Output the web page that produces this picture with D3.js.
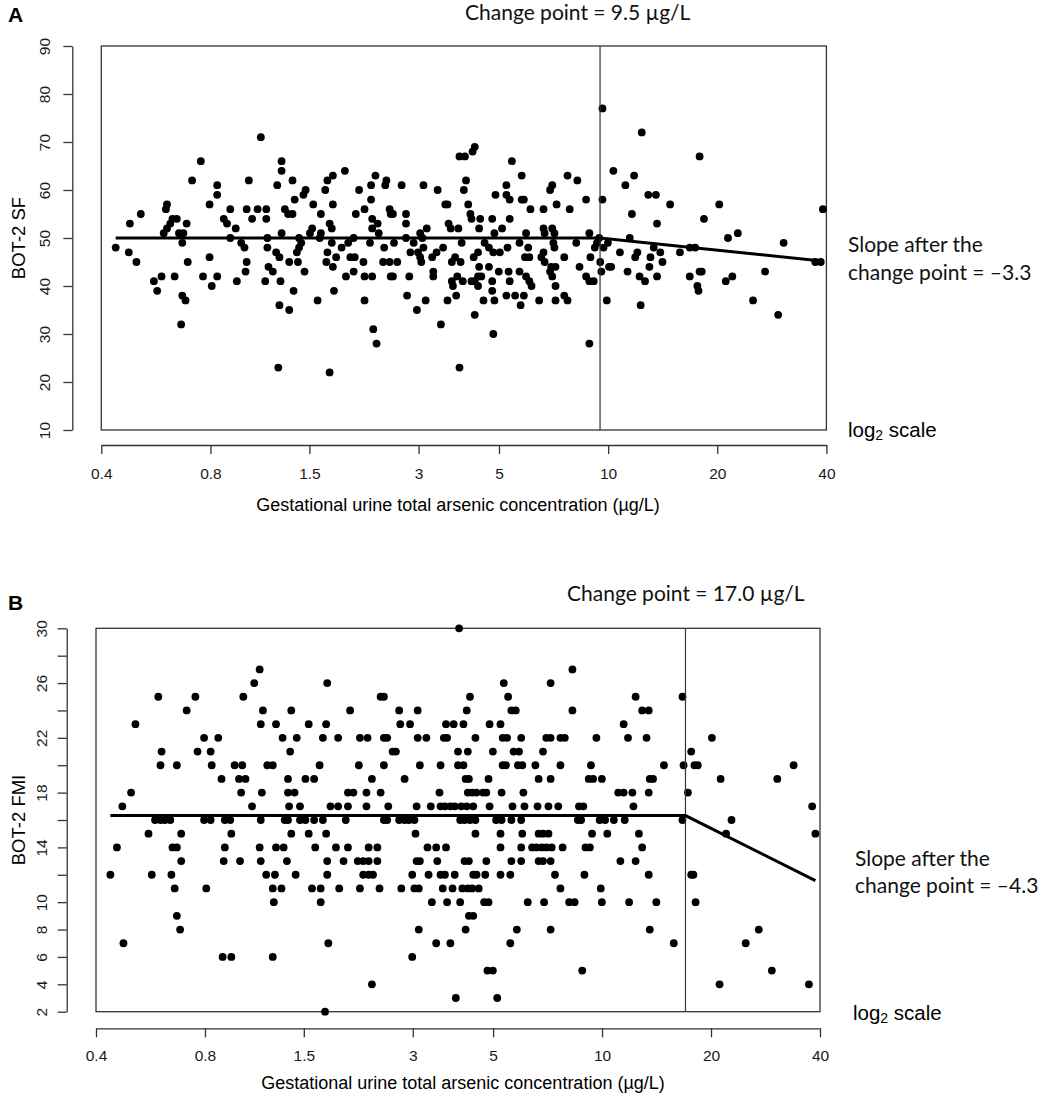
<!DOCTYPE html>
<html>
<head>
<meta charset="utf-8">
<script src="https://cdn.jsdelivr.net/npm/d3@7"></script>
<style>
  body { margin: 0; background: #fff; }
  svg { display: block; }
</style>
</head>
<body>
<script>
// ============================================================
// Data (x = log2 of gestational urine total arsenic, ug/L)
// ------------------------------------------------------------

var arsenicTicks = [0.4, 0.8, 1.5, 3, 5, 10, 20, 40];

// Panel A: BOT-2 SF, one [log2 As, score] pair per child
var sfPoints = [
  [-1.19,48],[-1.07,47],[-1.06,53],[-1.00,45],[-0.96,55],[-0.84,41],[-0.81,39],[-0.77,42],[-0.75,51],[-0.73,56],
  [-0.72,57],[-0.72,52],[-0.69,53],[-0.67,54],[-0.63,54],[-0.65,42],[-0.61,51],[-0.59,32],[-0.58,38],[-0.57,51],
  [-0.58,49],[-0.55,37],[-0.54,53],[-0.53,45],[-0.49,62],[-0.41,66],[-0.39,42],[-0.33,57],[-0.33,46],[-0.31,40],
  [-0.26,61],[-0.26,59],[-0.26,42],[-0.20,54],[-0.17,53],[-0.14,56],[-0.14,50],[-0.09,52],[-0.08,41],[-0.04,49],
  [-0.01,48],[0.01,56],[0.01,45],[0.00,43],[0.03,62],[0.06,54],[0.11,56],[0.14,71],[0.19,56],[0.19,54],
  [0.20,48],[0.20,50],[0.18,41],[0.21,44],[0.25,43],[0.29,61],[0.33,66],[0.33,64],[0.33,51],[0.31,36],
  [0.30,23],[0.32,41],[0.31,46],[0.28,47],[0.36,56],[0.39,55],[0.40,35],[0.40,45],[0.43,62],[0.44,39],
  [0.45,58],[0.43,55],[0.48,45],[0.47,47],[0.49,50],[0.49,48],[0.51,49],[0.53,59],[0.55,60],[0.54,43],
  [0.62,57],[0.61,52],[0.59,51],[0.66,37],[0.68,50],[0.69,51],[0.69,55],[0.73,60],[0.75,62],[0.75,47],
  [0.74,45],[0.77,53],[0.77,22],[0.79,52],[0.80,63],[0.80,57],[0.79,49],[0.80,44],[0.81,39],[0.83,46],
  [0.88,48],[0.91,64],[0.92,42],[0.94,49],[0.96,46],[0.99,50],[1.00,46],[1.01,55],[0.99,43],[1.04,60],
  [1.08,45],[1.09,56],[1.09,42],[1.09,37],[1.15,58],[1.15,61],[1.14,49],[1.16,54],[1.16,42],[1.16,52],
  [1.19,63],[1.17,31],[1.20,28],[1.21,53],[1.22,51],[1.26,45],[1.27,48],[1.28,61],[1.29,62],[1.32,45],
  [1.32,56],[1.33,55],[1.33,42],[1.35,42],[1.35,55],[1.36,49],[1.39,45],[1.43,61],[1.47,55],[1.47,53],
  [1.47,50],[1.48,38],[1.50,42],[1.51,47],[1.54,49],[1.57,35],[1.58,47],[1.60,46],[1.61,45],[1.60,51],
  [1.62,50],[1.63,61],[1.63,48],[1.65,37],[1.66,52],[1.71,46],[1.72,43],[1.72,42],[1.76,60],[1.75,47],
  [1.79,32],[1.81,48],[1.83,57],[1.85,57],[1.85,37],[1.86,53],[1.88,52],[1.89,45],[1.89,41],[1.90,40],
  [1.92,46],[1.93,38],[1.94,42],[1.95,52],[1.96,23],[1.96,67],[2.01,67],[2.02,62],[2.00,60],[1.97,45],
  [1.98,49],[1.99,41],[2.04,57],[2.06,55],[2.07,54],[2.08,68],[2.10,69],[2.07,41],[2.09,46],[2.10,34],
  [2.10,41],[2.13,42],[2.13,40],[2.14,52],[2.15,54],[2.13,47],[2.14,44],[2.16,42],[2.18,37],[2.19,49],
  [2.23,44],[2.23,48],[2.26,54],[2.26,41],[2.26,39],[2.27,30],[2.28,37],[2.29,59],[2.28,51],[2.27,47],
  [2.32,43],[2.33,47],[2.35,52],[2.39,61],[2.39,38],[2.39,59],[2.40,48],[2.44,66],[2.42,58],[2.42,54],
  [2.41,43],[2.42,41],[2.47,38],[2.53,63],[2.53,58],[2.55,58],[2.61,56],[2.57,51],[2.51,49],[2.59,48],
  [2.56,46],[2.60,46],[2.51,43],[2.57,42],[2.60,41],[2.62,40],[2.55,38],[2.52,36],[2.69,37],[2.73,56],
  [2.73,52],[2.74,51],[2.81,52],[2.83,51],[2.82,49],[2.83,48],[2.79,60],[2.81,61],[2.85,57],[2.92,46],
  [2.73,47],[2.71,46],[2.74,45],[2.80,44],[2.84,44],[2.79,43],[2.81,42],[2.84,40],[2.84,37],[2.92,38],
  [2.95,37],[2.95,63],[2.97,56],[3.04,62],[3.03,49],[3.06,44],[3.12,58],[3.12,42],[3.15,51],[3.16,46],
  [3.15,41],[3.19,41],[3.15,28],[3.20,48],[3.22,49],[3.24,50],[3.27,77],[3.27,58],[3.28,48],[3.25,45],
  [3.26,43],[3.31,37],[3.32,49],[3.33,44],[3.35,44],[3.37,64],[3.43,47],[3.48,61],[3.50,43],[3.52,50],
  [3.54,55],[3.57,46],[3.59,47],[3.61,42],[3.62,36],[3.63,72],[3.56,63],[3.66,41],[3.69,59],[3.76,59],
  [3.70,44],[3.71,46],[3.74,48],[3.77,42],[3.77,53],[3.80,47],[3.82,45],[3.89,57],[3.98,47],[4.07,48],
  [4.12,48],[4.07,42],[4.16,67],[4.14,40],[4.15,39],[4.16,43],[4.18,43],[4.20,54],[4.34,57],[4.40,41],
  [4.42,50],[4.46,42],[4.51,51],[4.65,37],[4.76,43],[4.88,34],[4.93,49],[5.22,45],[5.27,45],[5.29,56]
];
var sfTicks = [10, 20, 30, 40, 50, 60, 70, 80, 90];
var sfChangePoint = 9.5;              // ug/L
var sfFit = [[-1.19, 50], [null, 50], [5.28, 45.2]];   // null = change point

// Panel B: BOT-2 FMI, scores are integers so points are listed per score row
var fmiScores = [30, 27, 26, 25, 24, 23, 22, 21, 20, 19, 18, 17, 16, 15, 14, 13, 12, 11, 10, 9, 8, 7, 6, 5, 4, 3, 2];
var fmiLog2As = [
  [2.01],
  [0.18, 3.05],
  [0.13, 0.80, 2.42, 2.85],
  [-0.75, -0.41, 0.03, 1.29, 1.32, 2.11, 2.46, 3.63, 4.06],
  [-0.49, 0.21, 0.47, 1.01, 1.46, 1.63, 2.08, 2.49, 2.53, 3.05, 3.69, 3.75],
  [-0.96, 0.19, 0.33, 0.63, 0.79, 1.47, 1.56, 1.89, 1.96, 2.05, 2.29, 2.39, 3.52],
  [-0.33, -0.20, 0.39, 0.52, 0.76, 0.90, 1.10, 1.17, 1.32, 1.35, 1.63, 1.71, 1.87, 1.90, 2.16, 2.41, 2.45, 2.58, 2.81, 2.85, 2.94, 2.98, 3.27, 3.56, 3.73, 4.33],
  [-0.72, -0.39, -0.27, 0.46, 1.40, 1.43, 2.00, 2.09, 2.32, 2.51, 2.56, 2.78, 4.14],
  [-0.73, -0.58, -0.26, -0.05, 0.02, 0.25, 0.30, 0.73, 1.09, 1.32, 1.65, 1.84, 2.00, 2.05, 2.41, 2.44, 2.55, 2.59, 2.71, 2.94, 3.22, 3.89, 4.07, 4.17, 4.20, 5.08],
  [-0.17, -0.01, 0.05, 0.44, 0.60, 0.68, 1.21, 1.51, 2.07, 2.10, 2.28, 2.74, 2.85, 3.20, 3.24, 3.32, 3.76, 3.79, 4.41, 4.93],
  [-1.00, 0.01, 0.20, 0.44, 0.50, 0.99, 1.04, 1.16, 1.29, 1.83, 2.09, 2.13, 2.17, 2.23, 2.26, 2.40, 2.60, 3.47, 3.52, 3.60, 3.75, 4.11],
  [-1.08, 0.11, 0.45, 0.55, 0.83, 0.90, 0.99, 1.16, 1.36, 1.62, 1.75, 1.84, 1.88, 1.93, 1.97, 2.03, 2.08, 2.14, 2.29, 2.50, 2.61, 2.73, 2.83, 2.92, 3.11, 3.15, 3.61, 5.25],
  [-0.78, -0.73, -0.69, -0.64, -0.33, -0.27, -0.14, -0.09, 0.19, 0.41, 0.44, 0.55, 0.60, 0.68, 0.76, 0.97, 1.32, 1.35, 1.46, 1.51, 1.55, 1.60, 2.02, 2.06, 2.11, 2.16, 2.35, 2.40, 2.49, 2.58, 3.10, 3.13, 3.30, 3.35, 3.43, 3.53, 4.06, 4.51],
  [-0.84, -0.54, -0.08, 0.47, 0.63, 0.79, 1.61, 2.16, 2.39, 2.59, 2.74, 2.78, 2.83, 3.23, 3.37, 3.66, 4.46, 5.28],
  [-1.13, -0.62, -0.58, -0.14, 0.18, 0.33, 0.40, 0.69, 0.88, 0.99, 1.18, 1.26, 1.72, 1.80, 1.89, 2.39, 2.58, 2.68, 2.72, 2.77, 2.81, 2.86, 2.96, 3.17, 3.21, 3.69],
  [-0.54, -0.15, 0.00, 0.19, 0.43, 0.80, 0.95, 1.08, 1.13, 1.18, 1.26, 1.62, 1.65, 1.81, 2.06, 2.10, 2.26, 2.49, 2.58, 2.74, 2.78, 2.85, 3.49, 3.63],
  [-1.19, -0.81, -0.63, 0.24, 0.32, 0.51, 0.80, 1.13, 1.18, 1.22, 1.58, 1.73, 1.84, 1.88, 1.97, 2.14, 2.17, 2.25, 2.39, 2.48, 2.89, 3.16, 3.75, 4.14, 4.16],
  [-0.60, -0.31, 0.30, 0.38, 0.66, 0.74, 0.91, 1.10, 1.28, 1.48, 1.60, 1.64, 1.86, 1.95, 2.04, 2.09, 2.13, 2.19, 2.94, 3.31],
  [0.31, 0.74, 1.76, 1.90, 2.02, 2.24, 2.28, 2.64, 2.79, 3.02, 3.07, 3.32, 3.57, 3.82, 4.18],
  [-0.58, 2.10, 2.14],
  [-0.55, 1.64, 2.07, 2.54, 2.85, 3.76, 4.76],
  [-1.07, 0.81, 1.80, 1.93, 2.48, 3.98, 4.64],
  [-0.16, -0.08, 0.30, 1.58],
  [2.27, 2.32, 3.14, 4.88],
  [1.21, 4.40, 5.22],
  [1.98, 2.36],
  [0.78]
];
var fmiTicks = [2, 4, 6, 8, 10, 12, 14, 16, 18, 20, 22, 24, 26, 28, 30];
var fmiTickLabels = [2, 4, 6, 8, 10, 14, 18, 22, 26, 30];
var fmiChangePoint = 17.0;            // ug/L
var fmiFit = [[-1.19, 16.32], [null, 16.32], [5.28, 11.57]];

// ============================================================
// Setup
// ------------------------------------------------------------

var width = 1040,
    height = 1096,
    rFont = "'Liberation Sans', Arial, Helvetica, sans-serif",
    noteFont = "Lato, 'Open Sans', sans-serif",
    ink = '#000',
    axisInk = '#333';

var svg = d3.select('body').append('svg')
      .attr('width', width)
      .attr('height', height);

function panel(p) {
  var g = svg.append('g').attr('class', 'panel');

  var x = d3.scaleLinear()
        .domain([Math.log2(arsenicTicks[0]), Math.log2(arsenicTicks[arsenicTicks.length - 1])])
        .range([p.left, p.right]);
  var y = d3.scaleLinear()
        .domain(p.yDomain)
        .range([p.bottom, p.top]);

  //------------------------------------------------------------
  // Axes

  var xAxis = d3.axisBottom(x)
        .tickValues(arsenicTicks.map(Math.log2))
        .tickFormat(function(d, i) { return arsenicTicks[i]; })
        .tickSize(9)
        .tickSizeOuter(0);
  var xg = g.append('g')
        .attr('transform', 'translate(0,' + p.xAxisY + ')')
        .call(xAxis)
        .attr('font-family', rFont)
        .attr('font-size', 15.5);
  xg.selectAll('.domain, .tick line').attr('stroke', axisInk).attr('stroke-width', 1.3);
  xg.selectAll('.tick text')
    .attr('y', p.xLabelDy)
    .attr('dy', null)
    .attr('fill', '#1a1a1a');

  var yAxis = d3.axisLeft(y)
        .tickValues(p.yTicks)
        .tickFormat(function(d) { return p.yLabels.indexOf(d) > -1 ? d : ''; })
        .tickSize(9)
        .tickSizeOuter(0);
  var yg = g.append('g')
        .attr('transform', 'translate(' + p.yAxisX + ',0)')
        .call(yAxis)
        .attr('font-family', rFont)
        .attr('font-size', 15.5);
  yg.selectAll('.domain, .tick line').attr('stroke', axisInk).attr('stroke-width', 1.3);
  yg.selectAll('.tick text')
    .attr('x', 0)
    .attr('y', -p.yLabelDx)
    .attr('dy', null)
    .attr('transform', 'rotate(-90)')
    .attr('text-anchor', 'middle')
    .attr('fill', '#1a1a1a');

  // axis titles
  g.append('text')
    .attr('x', p.xTitleX)
    .attr('y', p.xTitleY)
    .attr('text-anchor', 'middle')
    .attr('font-family', rFont)
    .attr('font-size', 18)
    .attr('fill', ink)
    .text('Gestational urine total arsenic concentration (\u00b5g/L)');

  g.append('text')
    .attr('transform', 'translate(' + p.yTitleX + ',' + ((p.top + p.bottom) / 2) + ') rotate(-90)')
    .attr('text-anchor', 'middle')
    .attr('font-family', rFont)
    .attr('font-size', 18.5)
    .attr('fill', ink)
    .text(p.yTitle);

  //------------------------------------------------------------
  // Plot box

  g.append('rect')
    .attr('x', p.left)
    .attr('y', p.top)
    .attr('width', p.right - p.left)
    .attr('height', p.bottom - p.top)
    .attr('fill', 'none')
    .attr('stroke', axisInk)
    .attr('stroke-width', 1.3);

  //------------------------------------------------------------
  // Points

  g.append('g').selectAll('circle')
    .data(p.points)
    .enter().append('circle')
      .attr('cx', function(d) { return x(d[0]); })
      .attr('cy', function(d) { return y(d[1]); })
      .attr('r', 3.9)
      .attr('fill', ink);

  //------------------------------------------------------------
  // Change point and fitted segments

  var cp = Math.log2(p.changePoint);
  g.append('line')
    .attr('x1', x(cp)).attr('x2', x(cp))
    .attr('y1', p.top).attr('y2', p.bottom)
    .attr('stroke', axisInk)
    .attr('stroke-width', 1.2);

  var fit = p.fit.map(function(d) { return [d[0] === null ? cp : d[0], d[1]]; });
  g.append('path')
    .datum(fit)
    .attr('d', d3.line()
      .x(function(d) { return x(d[0]); })
      .y(function(d) { return y(d[1]); }))
    .attr('fill', 'none')
    .attr('stroke', ink)
    .attr('stroke-width', 3);

  //------------------------------------------------------------
  // Annotations

  g.append('text')
    .attr('x', p.panelX).attr('y', p.panelY)
    .attr('font-family', rFont)
    .attr('font-weight', 'bold')
    .attr('font-size', 21)
    .text(p.panelLabel);

  g.append('text')
    .attr('x', p.cpTextX).attr('y', p.cpTextY)
    .attr('font-family', noteFont)
    .attr('font-size', 21)
    .attr('fill', '#111')
    .text('Change point = ' + p.changePoint.toFixed(1) + ' \u00b5g/L');

  var slope = g.append('text')
    .attr('font-family', noteFont)
    .attr('font-size', 21)
    .attr('fill', '#111');
  slope.append('tspan').attr('x', p.slopeX).attr('y', p.slopeY).text('Slope after the');
  slope.append('tspan').attr('x', p.slopeX).attr('y', p.slopeY + p.slopeGap).text('change point = \u2013' + p.slopeAfter);

  var logNote = g.append('text')
    .attr('x', p.logX).attr('y', p.logY)
    .attr('font-family', rFont)
    .attr('font-size', 20.5)
    .attr('fill', ink);
  logNote.append('tspan').text('log');
  logNote.append('tspan').attr('font-size', 14).attr('dy', 3).text('2');
  logNote.append('tspan').attr('dy', -3).text(' scale');
}

panel({
  panelLabel: 'A', panelX: 8, panelY: 22,
  left: 101.3, right: 826.4, top: 46, bottom: 430,
  yDomain: [10, 90], yTicks: sfTicks, yLabels: sfTicks,
  yAxisX: 72.3, yLabelDx: 22, yTitleX: 25, yTitle: 'BOT-2 SF',
  xAxisY: 445, xLabelDy: 34, xTitleX: 458, xTitleY: 511,
  points: sfPoints,
  changePoint: sfChangePoint, fit: sfFit, slopeAfter: '3.3',
  cpTextX: 465, cpTextY: 20,
  slopeX: 848, slopeY: 252, slopeGap: 28,
  logX: 848, logY: 437
});

var fmiPoints = [];
fmiScores.forEach(function(s, i) {
  fmiLog2As[i].forEach(function(v) { fmiPoints.push([v, s]); });
});

panel({
  panelLabel: 'B', panelX: 8, panelY: 610,
  left: 96, right: 820, top: 628.3, bottom: 1011.7,
  yDomain: [2, 30], yTicks: fmiTicks, yLabels: fmiTickLabels,
  yAxisX: 66.7, yLabelDx: 20, yTitleX: 25, yTitle: 'BOT-2 FMI',
  xAxisY: 1028.3, xLabelDy: 33, xTitleX: 463, xTitleY: 1089,
  points: fmiPoints,
  changePoint: fmiChangePoint, fit: fmiFit, slopeAfter: '4.3',
  cpTextX: 567, cpTextY: 601,
  slopeX: 855, slopeY: 866, slopeGap: 27,
  logX: 853, logY: 1020
});
</script>
</body>
</html>
